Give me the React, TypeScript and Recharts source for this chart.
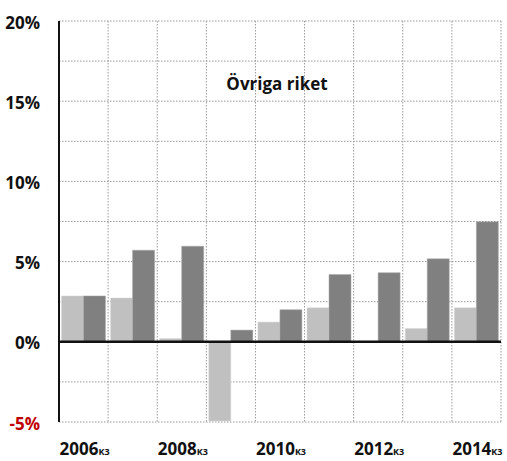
import { Bar, BarChart, CartesianGrid, ReferenceLine, XAxis, YAxis } from 'recharts'

const years = ['2006', '2007', '2008', '2009', '2010', '2011', '2012', '2013', '2014']
const lightSeries = [2.86, 2.73, 0.2, -4.94, 1.23, 2.12, 0, 0.83, 2.12]
const darkSeries = [2.86, 5.71, 5.96, 0.73, 2.0, 4.19, 4.31, 5.17, 7.48]
const yTicks = [-5, -2.5, 0, 2.5, 5, 7.5, 10, 12.5, 15, 17.5, 20]
const labelledYears = ['2006', '2008', '2010', '2012', '2014']
const title = 'Övriga riket'

const rows = years.map((year, i) => ({ year, light: lightSeries[i], dark: darkSeries[i] }))

const FONT = '"Open Sans", Lato, sans-serif'

function YTick({ x, y, payload }: any) {
  const v = payload.value as number
  if (v % 5 !== 0) return null
  return (
    <text
      x={x - 11}
      y={y + 1}
      textAnchor="end"
      dominantBaseline="central"
      fontFamily={FONT}
      fontWeight={700}
      fontSize={17}
      fill={v < 0 ? '#c00000' : '#111'}
    >
      {`${v}%`}
    </text>
  )
}

function XTick({ x, y, payload }: any) {
  if (!labelledYears.includes(payload.value)) return null
  return (
    <text x={x - 24} y={y + 25} textAnchor="start" fontFamily={FONT} fontWeight={700} fontSize={17} fill="#111">
      {payload.value}
      <tspan fontSize={9}>K3</tspan>
    </text>
  )
}

export default function App() {
  return (
    <div style={{ position: 'absolute', left: 0, top: 0, width: 507, height: 461, background: '#fff' }}>
      <BarChart
        width={507}
        height={461}
        data={rows}
        margin={{ top: 21, right: 6, bottom: 0, left: 0 }}
        barCategoryGap="5%"
        barGap={0}
      >
        <CartesianGrid
          stroke="#999"
          strokeDasharray="1.5 1.5"
          verticalCoordinatesGenerator={({ offset }: any) =>
            years.map((_, i) => offset.left + (offset.width * (i + 1)) / years.length)
          }
        />
        <XAxis dataKey="year" axisLine={false} tickLine={false} height={39} tick={<XTick />} interval={0} />
        <YAxis
          domain={[-5, 20]}
          ticks={yTicks}
          width={59}
          allowDataOverflow
          axisLine={{ stroke: '#111', strokeWidth: 2 }}
          tickLine={false}
          tick={<YTick />}
          interval={0}
        />
        <Bar dataKey="light" fill="#c0c0c0" stroke="#d8d8d8" strokeWidth={0.5} isAnimationActive={false} />
        <Bar dataKey="dark" fill="#808080" stroke="#a8a8a8" strokeWidth={0.5} isAnimationActive={false} />
        <ReferenceLine y={0} stroke="#111" strokeWidth={2.5} />
        <text x={277} y={90} textAnchor="middle" fontFamily={FONT} fontWeight={700} fontSize={17} fill="#111">
          {title}
        </text>
      </BarChart>
    </div>
  )
}
